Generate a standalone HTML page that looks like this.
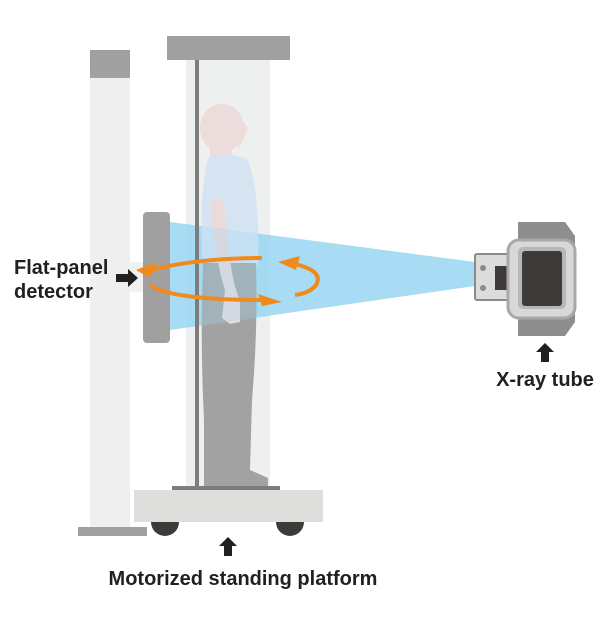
<!DOCTYPE html>
<html><head><style>
body{margin:0;background:#fff}
svg{display:block}
text{font-family:"Liberation Sans",Arial,sans-serif;font-weight:bold;fill:#231f20;font-size:20px}
</style></head><body>
<svg width="600" height="622" viewBox="0 0 600 622">
<!-- left column -->
<rect x="90" y="50" width="40" height="478" fill="#efefef"/>
<rect x="90" y="50" width="40" height="28" fill="#a0a0a0"/>
<rect x="78" y="527" width="69" height="9" fill="#a0a0a0"/>
<rect x="130" y="262" width="14" height="30" fill="#f1f1f1"/>
<!-- glass column -->
<rect x="186" y="60" width="84" height="430" fill="#eef0ef"/>
<rect x="167" y="36" width="123" height="24" fill="#a0a0a0"/>
<!-- beam -->
<polygon points="170,222 475,262 475,286 170,330" fill="#9fd8f3" opacity="0.9"/>
<!-- person -->
<g>
<ellipse cx="222" cy="128" rx="22" ry="24" fill="#ecdcdc"/>
<polygon points="240,118 248,128 243,140 238,150" fill="#ecdcdc"/>
<rect x="210" y="145" width="22" height="15" fill="#ecdcdc"/>
<path d="M208,158 Q230,150 248,160 Q260,190 258,265 L203,265 Q198,200 208,158Z" fill="#d6e4f2"/>
<path d="M203,263 L256,263 Q258,330 252,400 L250,470 L268,478 L268,487 L204,487 L204,420 Q200,340 203,263Z" fill="#a2a2a2"/>
<path d="M210,200 Q215,260 225,290 L222,318 L230,324 L240,322 L240,300 Q232,285 228,240 Q225,205 222,200Z" fill="#ebdada"/>
</g>
<polygon points="186,224 270,235 270,316 186,328" fill="#9fd8f3" opacity="0.3"/>
<!-- pole -->
<rect x="195" y="60" width="4" height="428" fill="#7d7d7d"/>
<!-- detector -->
<rect x="143" y="212" width="27" height="131" rx="4" fill="#a0a0a0"/>
<!-- rotation arrows -->
<g fill="none" stroke="#f08a1c" stroke-width="4">
<path d="M150,270 Q200,258 262,258"/>
<path d="M150,285 Q170,300 265,300"/>
<path d="M290,263 Q325,270 316,285 Q310,293 295,295"/>
</g>
<g fill="#f08a1c">
<polygon points="136,270 156,262 150,278"/>
<polygon points="282,302 258,294 262,306"/>
<polygon points="278,262 300,256 296,270"/>
</g>
<!-- platform -->
<rect x="172" y="486" width="108" height="4" fill="#7d7d7d"/>
<rect x="134" y="490" width="189" height="32" fill="#dededc"/>
<path d="M151,522 a14,14 0 0 0 28,0Z" fill="#3e3a39"/>
<path d="M276,522 a14,14 0 0 0 28,0Z" fill="#3e3a39"/>
<!-- x-ray tube -->
<rect x="475" y="254" width="38" height="46" rx="2" fill="#dcdcdc" stroke="#8a8a8a" stroke-width="2"/>
<circle cx="483" cy="268" r="3" fill="#8a8a8a"/><circle cx="483" cy="288" r="3" fill="#8a8a8a"/>
<rect x="495" y="266" width="13" height="24" fill="#3e3a39"/>
<polygon points="518,222 565,222 575,236 575,322 565,336 518,336" fill="#8e8e8e"/>
<rect x="508" y="240" width="67" height="78" rx="11" fill="#d8d8d8" stroke="#a8a8a8" stroke-width="3"/>
<rect x="518" y="247" width="48" height="62" rx="5" fill="#b7b7b7"/>
<rect x="522" y="251" width="40" height="55" rx="3" fill="#3e3a39"/>
<!-- labels -->
<text x="14" y="274">Flat-panel</text>
<text x="14" y="298">detector</text>
<polygon points="116,274 128,274 128,269 138,278 128,287 128,282 116,282" fill="#231f20"/>
<polygon points="541,362 541,352 536,352 545,343 554,352 549,352 549,362" fill="#231f20"/>
<text x="545" y="386" text-anchor="middle">X-ray tube</text>
<polygon points="224,556 224,546 219,546 228,537 237,546 232,546 232,556" fill="#231f20"/>
<text x="243" y="585" text-anchor="middle">Motorized standing platform</text>
</svg>
</body></html>
